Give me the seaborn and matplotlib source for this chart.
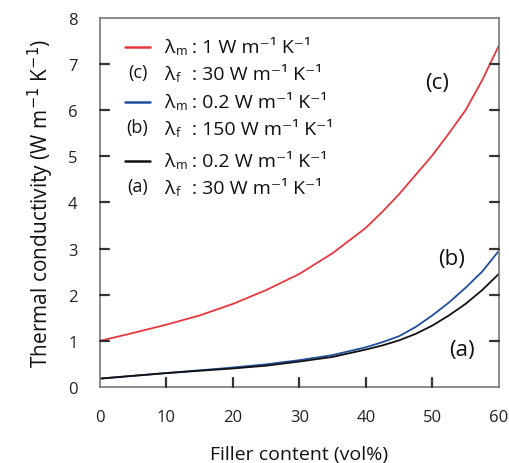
import pandas as pd
import seaborn as sns
import matplotlib.pyplot as plt
from matplotlib.lines import Line2D
from matplotlib.transforms import blended_transform_factory

# Data
filler = [0, 5, 10, 15, 20, 25, 30, 35, 40, 42.5, 45, 47.5, 50, 52.5, 55, 57.5, 60]
curve_c = [1.0, 1.17, 1.35, 1.55, 1.8, 2.1, 2.45, 2.9, 3.45, 3.8, 4.18, 4.6, 5.02, 5.5, 6.0, 6.65, 7.4]
curve_b = [0.18, 0.24, 0.3, 0.36, 0.42, 0.49, 0.58, 0.69, 0.86, 0.97, 1.1, 1.3, 1.55, 1.83, 2.15, 2.5, 2.95]
curve_a = [0.18, 0.24, 0.3, 0.35, 0.4, 0.46, 0.55, 0.65, 0.81, 0.9, 1.01, 1.15, 1.33, 1.55, 1.8, 2.1, 2.45]

series_names = ["(c)", "(b)", "(a)"]
series_colors = ["#e8383d", "#1f4e9c", "#111111"]
legend_lines = [
    ("λm", "1 W m⁻¹ K⁻¹", "λf", "30 W m⁻¹ K⁻¹"),
    ("λm", "0.2 W m⁻¹ K⁻¹", "λf", "150 W m⁻¹ K⁻¹"),
    ("λm", "0.2 W m⁻¹ K⁻¹", "λf", "30 W m⁻¹ K⁻¹"),
]

df = pd.concat([
    pd.DataFrame({"Filler": filler, "k": vals, "Series": name})
    for name, vals in zip(series_names, [curve_c, curve_b, curve_a])
])

sns.set_style("ticks")
plt.rcParams.update({
    'font.family': ['Open Sans', 'DejaVu Sans'],
    'text.color': '#111111',
    'axes.labelcolor': '#111111',
    'xtick.labelcolor': '#222222',
    'ytick.labelcolor': '#222222',
    'xtick.labelsize': 12,
    'ytick.labelsize': 12,
})

fig = plt.figure(figsize=(5.1, 4.64), dpi=100)
ax = fig.add_axes([0.196, 0.164, 0.782, 0.795])

sns.lineplot(data=df, x="Filler", y="k", hue="Series", palette=series_colors,
             hue_order=series_names, linewidth=1.3, legend=False, ax=ax)

ax.set_xlim(0, 60)
ax.set_ylim(0, 8)
ax.set_xticks(range(0, 61, 10))
ax.set_yticks(range(0, 9))
ax.tick_params(length=0, pad=16)
for sp in ax.spines.values():
    sp.set_visible(True)
    sp.set_color("#777777")
    sp.set_linewidth(1.2)

# inward tick marks drawn as short segments at the axis tick positions
tick_kw = dict(color="#333333", lw=1.6, clip_on=False, zorder=5)
tx = blended_transform_factory(ax.transData, ax.transAxes)
for xv in ax.get_xticks()[1:-1]:
    ax.plot([xv, xv], [0, 0.025], transform=tx, **tick_kw)
ty = blended_transform_factory(ax.transAxes, ax.transData)
for yv in ax.get_yticks()[1:-1]:
    ax.plot([0, 0.022], [yv, yv], transform=ty, **tick_kw)
    ax.plot([0.978, 1], [yv, yv], transform=ty, **tick_kw)
ax.set_xlim(0, 60)
ax.set_ylim(0, 8)

ax.set_xlabel("Filler content (vol%)", fontsize=14, labelpad=14)
ax.set_ylabel("Thermal conductivity (W m$^{-1}$ K$^{-1}$)", fontsize=15, labelpad=9)

# curve labels
ax.text(50.7, 6.6, "(c)", fontsize=16, ha="center", va="center")
ax.text(52.9, 2.78, "(b)", fontsize=16, ha="center", va="center")
ax.text(54.4, 0.82, "(a)", fontsize=16, ha="center", va="center")

# custom legend block
line_y = [0.922, 0.773, 0.613]
gap = 0.073
for (m, mv, f, fv), color, name, yy in zip(legend_lines, series_colors, series_names, line_y):
    ax.add_line(Line2D([0.063, 0.125], [yy, yy], color=color, lw=1.8,
                       transform=ax.transAxes))
    ax.text(0.094, yy - gap + 0.005, name, transform=ax.transAxes, fontsize=13,
            ha="center", va="center")
    for lam, val, dy in [(m, mv, 0), (f, fv, gap)]:
        ax.text(0.16, yy - dy, lam[0], transform=ax.transAxes, fontsize=14,
                ha="left", va="center")
        ax.text(0.19, yy - dy - 0.01, lam[1], transform=ax.transAxes, fontsize=9,
                ha="left", va="center")
        ax.text(0.232, yy - dy, ": " + val, transform=ax.transAxes, fontsize=14,
                ha="left", va="center")

fig.savefig("out.png", dpi=100)
